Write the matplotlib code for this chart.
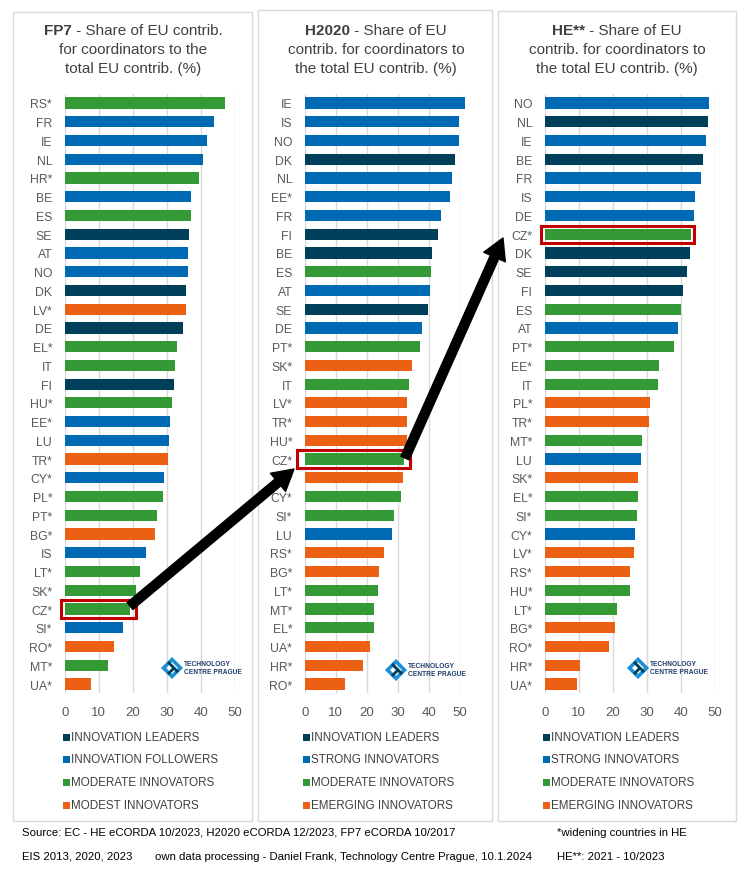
import matplotlib
matplotlib.use("Agg")
import matplotlib.pyplot as plt
from matplotlib.patches import Rectangle, FancyArrowPatch, Polygon

# ---------------- data ----------------
fp7_countries = ['RS*', 'FR', 'IE', 'NL', 'HR*', 'BE', 'ES', 'SE', 'AT', 'NO', 'DK', 'LV*', 'DE', 'EL*', 'IT', 'FI',
                 'HU*', 'EE*', 'LU', 'TR*', 'CY*', 'PL*', 'PT*', 'BG*', 'IS', 'LT*', 'SK*', 'CZ*', 'SI*', 'RO*', 'MT*', 'UA*']
fp7_values = [47.2, 43.9, 41.9, 40.7, 39.5, 37.2, 37.2, 36.6, 36.3, 36.3, 35.7, 35.7, 34.8, 33.0, 32.5, 32.2,
              31.6, 31.0, 30.7, 30.4, 29.2, 28.9, 27.2, 26.6, 23.9, 22.2, 21.0, 19.2, 17.2, 14.5, 12.7, 7.7]
fp7_groups = ['M', 'S', 'S', 'S', 'M', 'S', 'M', 'L', 'S', 'S', 'L', 'E', 'L', 'M', 'M', 'L',
              'M', 'S', 'S', 'E', 'S', 'M', 'M', 'E', 'S', 'M', 'M', 'M', 'S', 'E', 'M', 'E']

h2020_countries = ['IE', 'IS', 'NO', 'DK', 'NL', 'EE*', 'FR', 'FI', 'BE', 'ES', 'AT', 'SE', 'DE', 'PT*', 'SK*', 'IT',
                   'LV*', 'TR*', 'HU*', 'CZ*', 'PL*', 'CY*', 'SI*', 'LU', 'RS*', 'BG*', 'LT*', 'MT*', 'EL*', 'UA*', 'HR*', 'RO*']
h2020_values = [51.7, 49.8, 49.8, 48.5, 47.5, 46.9, 44.0, 43.0, 41.1, 40.8, 40.4, 39.8, 37.8, 37.2, 34.6, 33.7,
                33.0, 33.0, 33.0, 32.0, 31.7, 31.1, 28.8, 28.2, 25.6, 24.0, 23.7, 22.4, 22.4, 21.1, 18.8, 13.0]
h2020_groups = ['S', 'S', 'S', 'L', 'S', 'S', 'S', 'L', 'L', 'M', 'S', 'L', 'S', 'M', 'E', 'M',
                'E', 'E', 'E', 'M', 'E', 'M', 'M', 'S', 'E', 'E', 'M', 'M', 'M', 'E', 'E', 'E']

he_countries = ['NO', 'NL', 'IE', 'BE', 'FR', 'IS', 'DE', 'CZ*', 'DK', 'SE', 'FI', 'ES', 'AT', 'PT*', 'EE*', 'IT',
                'PL*', 'TR*', 'MT*', 'LU', 'SK*', 'EL*', 'SI*', 'CY*', 'LV*', 'RS*', 'HU*', 'LT*', 'BG*', 'RO*', 'HR*', 'UA*']
he_values = [48.3, 48.0, 47.5, 46.6, 46.0, 44.2, 43.9, 43.0, 42.7, 41.9, 40.7, 40.1, 39.2, 38.0, 33.6, 33.3,
             31.0, 30.7, 28.6, 28.3, 27.5, 27.5, 27.2, 26.6, 26.3, 25.1, 25.1, 21.3, 20.7, 18.9, 10.4, 9.5]
he_groups = ['S', 'L', 'S', 'L', 'S', 'S', 'S', 'M', 'L', 'L', 'L', 'M', 'S', 'M', 'M', 'M',
             'E', 'E', 'M', 'S', 'E', 'M', 'M', 'S', 'E', 'E', 'M', 'M', 'E', 'E', 'E', 'E']

fp7_legend = ['INNOVATION LEADERS', 'INNOVATION FOLLOWERS', 'MODERATE INNOVATORS', 'MODEST INNOVATORS']
h2020_legend = ['INNOVATION LEADERS', 'STRONG INNOVATORS', 'MODERATE INNOVATORS', 'EMERGING INNOVATORS']
he_legend = ['INNOVATION LEADERS', 'STRONG INNOVATORS', 'MODERATE INNOVATORS', 'EMERGING INNOVATORS']

titles = [("FP7", [" - Share of EU contrib.", "for coordinators to the", "total EU contrib. (%)"]),
          ("H2020", [" - Share of EU", "contrib. for coordinators to", "the total EU contrib. (%)"]),
          ("HE**", [" - Share of EU", "contrib. for coordinators to", "the total EU contrib. (%)"])]

x_ticks = [0, 10, 20, 30, 40, 50]
highlight = 'CZ*'

# ---------------- style ----------------
COLORS = {'L': '#003F5A', 'S': '#0069B4', 'M': '#349A35', 'E': '#EC6013'}
GROUP_ORDER = ['L', 'S', 'M', 'E']
NARROW = ['Liberation Sans Narrow', 'Liberation Sans', 'DejaVu Sans']
REG = ['Liberation Sans', 'DejaVu Sans']
TXT = '#404040'
GRID = '#D9D9D9'

W, H = 752, 878
fig = plt.figure(figsize=(W / 100, H / 100), dpi=100)
fig.patch.set_facecolor('white')


def fx(x):
    return x / W


def fy(y):
    return 1 - y / H


# panel frames
frames = [(13, 13, 252, 822), (258, 11, 492, 822), (498, 12, 736, 822)]
for (x0, y0, x1, y1) in frames:
    fig.add_artist(Rectangle((fx(x0), fy(y1)), fx(x1) - fx(x0), fy(y0) - fy(y1),
                             transform=fig.transFigure, fill=False, edgecolor=GRID, lw=1.0))

panels = [
    (fp7_countries, fp7_values, fp7_groups, fp7_legend, 64.7, 170.0, 133, 1.8),
    (h2020_countries, h2020_values, h2020_groups, h2020_legend, 304.7, 155.0, 376, 2.0),
    (he_countries, he_values, he_groups, he_legend, 544.7, 170.0, 617, 0.9),
]

top_px, bot_px = 94.6, 694.4
for i, (cats, vals, grps, leg, x0, wpx, tcx, pad_r) in enumerate(panels):
    ax = fig.add_axes([fx(x0), fy(bot_px), wpx / W, (bot_px - top_px) / H])
    n = len(cats)
    ypos = list(range(n))
    ax.barh(ypos, vals, height=0.6, color=[COLORS[g] for g in grps], zorder=3, clip_on=False)
    ax.set_xlim(0, 50)
    ax.set_ylim(n - 0.5, -0.5)
    ax.set_xticks(x_ticks)
    ax.set_xticklabels([str(t) for t in x_ticks], fontsize=9.5, color='#595959', family=REG)
    ax.set_yticks(ypos)
    ax.set_yticklabels(cats, fontsize=8.8, color='#595959', family=REG)
    ax.tick_params(length=0)
    ax.tick_params(axis='y', pad=9)
    ax.tick_params(axis='x', pad=9)
    for s in ax.spines.values():
        s.set_visible(False)
    for t in x_ticks:
        ax.axvline(t, color=GRID, lw=1.0, zorder=1)
    ax.set_facecolor('none')
    # highlight box
    k = cats.index(highlight)
    xl = -1.2 if i != 1 else -2.4
    ax.add_patch(Rectangle((xl, k - 0.46), vals[k] + pad_r - xl, 0.92, fill=False,
                           edgecolor='#C00000', lw=2.2, zorder=4, clip_on=False))

    # legend
    for j, (g, lab) in enumerate(zip(GROUP_ORDER, leg)):
        ly = [738, 760, 783, 806][j]
        lx = x0 - 1
        fig.add_artist(Rectangle((fx(lx - 1), fy(ly + 3.5)), 7 / W, 7 / H, transform=fig.transFigure,
                                 facecolor=COLORS[g], edgecolor='none'))
        fig.text(fx(lx + 7.0), fy(ly), lab, fontsize=8.4, color='#404040', family=NARROW,
                 ha='left', va='center')

    # logo
    lgx, lgy = [172, 396, 638][i], [669, 671, 669][i]
    s = 8.5
    fig.add_artist(Polygon([(fx(lgx - s), fy(lgy)), (fx(lgx), fy(lgy - s)), (fx(lgx + s), fy(lgy)),
                            (fx(lgx), fy(lgy + s))], closed=True, transform=fig.transFigure,
                           fill=False, edgecolor='#1E8FD5', lw=2.6))
    fig.add_artist(Polygon([(fx(lgx - 3), fy(lgy - 7)), (fx(lgx + 7), fy(lgy + 3)), (fx(lgx + 5), fy(lgy + 5)),
                            (fx(lgx - 5), fy(lgy - 5))], closed=True, transform=fig.transFigure,
                           facecolor='#003F5A', edgecolor='none'))
    fig.add_artist(Polygon([(fx(lgx + 1), fy(lgy - 1)), (fx(lgx + 3), fy(lgy + 1)), (fx(lgx - 3), fy(lgy + 7)),
                            (fx(lgx - 5), fy(lgy + 5))], closed=True, transform=fig.transFigure,
                           facecolor='#003F5A', edgecolor='none'))
    fig.text(fx(lgx + 12), fy(lgy - 4), 'TECHNOLOGY', fontsize=4.8, color='#1F3F6E',
             family=NARROW, weight='bold', ha='left', va='center')
    fig.text(fx(lgx + 12), fy(lgy + 4), 'CENTRE PRAGUE', fontsize=4.8, color='#1F3F6E',
             family=NARROW, weight='bold', ha='left', va='center')

# titles (line 1 mixes bold prefix + regular)
fig.canvas.draw()
renderer = fig.canvas.get_renderer()
for i, (bold, lines) in enumerate(titles):
    cx = panels[i][6]
    tb = fig.text(0, 0, bold, fontsize=11, color=TXT, family=NARROW, weight='bold')
    tr = fig.text(0, 0, lines[0], fontsize=11, color=TXT, family=NARROW)
    wb = tb.get_window_extent(renderer).width
    wr = tr.get_window_extent(renderer).width
    start = cx - (wb + wr) / 2
    tb.set_position((fx(start), fy(31)))
    tb.set_va('center')
    tr.set_position((fx(start + wb), fy(31)))
    tr.set_va('center')
    for j, ln in enumerate(lines[1:]):
        fig.text(fx(cx), fy(50 + 19 * j), ln, fontsize=11, color=TXT, family=NARROW,
                 ha='center', va='center')


# arrows
def arrow(p0, p1):
    a = FancyArrowPatch((p0[0] / 100, (H - p0[1]) / 100), (p1[0] / 100, (H - p1[1]) / 100),
                        transform=fig.dpi_scale_trans,
                        arrowstyle='simple,head_length=15,head_width=17,tail_width=6.5',
                        mutation_scale=1, color='black', shrinkA=0, shrinkB=0, zorder=10)
    fig.add_artist(a)


arrow((130, 607), (294, 470))
arrow((405, 459), (503, 239))

# footer
fs = 8.2
fig.text(fx(22), fy(833), 'Source: EC - HE eCORDA 10/2023, H2020 eCORDA 12/2023, FP7 eCORDA 10/2017',
         fontsize=fs, color='black', family=NARROW, va='center')
fig.text(fx(22), fy(857), 'EIS 2013, 2020, 2023', fontsize=fs, color='black', family=NARROW, va='center')
fig.text(fx(155), fy(857), 'own data processing - Daniel Frank, Technology Centre Prague, 10.1.2024',
         fontsize=fs, color='black', family=NARROW, va='center')
fig.text(fx(557), fy(833), '*widening countries in HE', fontsize=fs, color='black', family=NARROW, va='center')
fig.text(fx(557), fy(857), 'HE**: 2021 - 10/2023', fontsize=fs, color='black', family=NARROW, va='center')

fig.savefig('out.png', dpi=100, facecolor='white')
